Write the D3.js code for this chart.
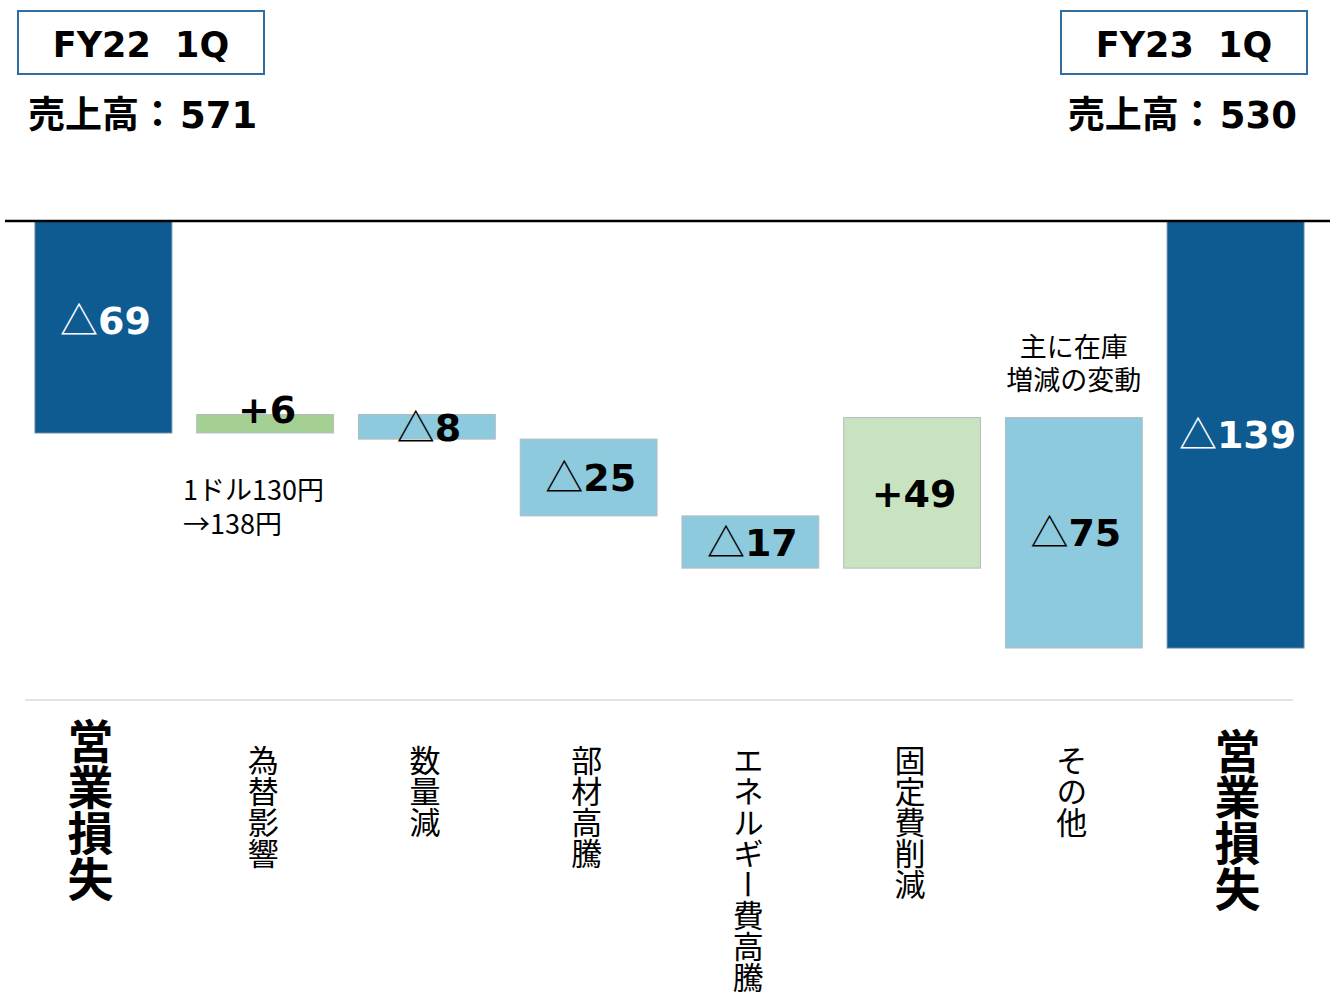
<!DOCTYPE html>
<html>
<head>
<meta charset="utf-8">
<script src="https://cdn.jsdelivr.net/npm/d3@7"></script>
<style>
  body { margin: 0; background: #fff; }
  svg { font-family: "Noto Sans CJK JP", "Noto Sans", sans-serif; }
  .latin { font-family: "DejaVu Sans", "Noto Sans CJK JP", sans-serif; }
</style>
</head>
<body>
<div id="chart"></div>
<script>
// categories (bottom labels) and waterfall steps
var categories = ["営業損失", "為替影響", "数量減", "部材高騰", "エネルギー費高騰", "固定費削減", "その他", "営業損失"];
var deltas = [-69, 6, -8, -25, -17, 49, -75, -139];
var kinds = ["total", "up", "down", "down", "down", "up2", "down", "total"];
var valueLabels = ["△69", "+6", "△8", "△25", "△17", "+49", "△75", "△139"];
var periods = ["FY22\u00a0\u00a01Q", "FY23\u00a0\u00a01Q"];
var salesPrefix = "売上高：";
var sales = ["571", "530"];

var width = 1330, height = 993;
var colors = { total: "#0e5b91", up: "#a4d094", up2: "#c9e3c0", down: "#8dcadd" };

var svg = d3.select("#chart").append("svg")
    .attr("width", width)
    .attr("height", height);

var x = d3.scaleBand()
    .domain(d3.range(categories.length))
    .range([35, 1304])
    .paddingInner(0.154);

var y = d3.scaleLinear()
    .domain([0, -139])
    .range([221, 648]);

// build start/end for each step
var bars = [];
var running = 0;
deltas.forEach(function (d, i) {
    var start, end;
    if (kinds[i] == "total") { start = 0; end = d; running = d; }
    else { start = running; end = running + d; running = end; }
    bars.push({ i: i, start: start, end: end, kind: kinds[i], label: valueLabels[i] });
});

// light baseline above category labels
svg.append("line")
    .attr("x1", 25).attr("x2", 1293)
    .attr("y1", 700).attr("y2", 700)
    .attr("stroke", "#d9d9d9").attr("stroke-width", 1.5);

svg.selectAll("rect.bar").data(bars).enter().append("rect")
    .attr("class", "bar")
    .attr("x", function (d) { return x(d.i); })
    .attr("width", x.bandwidth())
    .attr("y", function (d) { return Math.min(y(d.start), y(d.end)); })
    .attr("height", function (d) { return Math.abs(y(d.start) - y(d.end)); })
    .attr("fill", function (d) { return colors[d.kind]; })
    .attr("stroke", function (d) { return d.kind == "total" ? "#5f84a6" : "#b3bcc0"; })
    .attr("stroke-width", 1);

// zero line
svg.append("line")
    .attr("x1", 5).attr("x2", 1330)
    .attr("y1", y(0)).attr("y2", y(0))
    .attr("stroke", "#000").attr("stroke-width", 2.5);

svg.selectAll("text.val").data(bars).enter().append("text")
    .attr("class", "val latin")
    .attr("x", function (d) { return x(d.i) + x.bandwidth() / 2 + 2; })
    .attr("y", function (d) {
        var mid = (y(d.start) + y(d.end)) / 2;
        var h = Math.abs(y(d.start) - y(d.end));
        if (d.kind == "total" && d.i == 0) mid -= 7;
        if (h < 20) mid -= 14;
        return mid;
    })
    .attr("dy", "0.36em")
    .attr("text-anchor", "middle")
    .attr("font-size", 38)
    .attr("font-weight", "bold")
    .attr("fill", function (d) { return d.kind == "total" ? "#fff" : "#000"; })
    .each(function (d) {
        var t = d3.select(this);
        var c = d.label.charAt(0);
        t.append("tspan")
            .attr("font-weight", c == "△" ? "normal" : "bold")
            .style("font-family", c == "△" ? "'Noto Sans CJK JP'" : null)
            .attr("font-size", c == "△" ? 38 : null)
            .text(c);
        t.append("tspan").text(d.label.slice(1));
    });

// vertical category labels
svg.selectAll("text.cat").data(categories).enter().append("text")
    .attr("class", "cat")
    .attr("x", function (d, i) { return x(i) + x.bandwidth() / 2 + (i == 0 ? -13 : (i == 7 ? 2 : -2)); })
    .attr("y", function (d, i) { return i == 0 ? 718 : (i == 7 ? 728 : 745); })
    .style("writing-mode", "vertical-rl")
    .attr("font-size", function (d, i) { return kinds[i] == "total" ? 46 : 31; })
    .attr("font-weight", function (d, i) { return kinds[i] == "total" ? "bold" : "normal"; })
    .attr("fill", "#000")
    .text(function (d) { return d; });

// header boxes
var boxX = [18, 1061];
periods.forEach(function (p, i) {
    svg.append("rect")
        .attr("x", boxX[i]).attr("y", 11)
        .attr("width", 246).attr("height", 63)
        .attr("fill", "#fff")
        .attr("stroke", "#2f6ea5").attr("stroke-width", 2);
    svg.append("text")
        .attr("class", "latin")
        .attr("x", boxX[i] + 123).attr("y", 44)
        .attr("dy", "0.36em")
        .attr("text-anchor", "middle")
        .attr("font-size", 35).attr("font-weight", "bold")
        .text(p);
});
var s0 = svg.append("text")
    .attr("x", 28).attr("y", 115).attr("dy", "0.36em")
    .attr("font-size", 37).attr("font-weight", "bold");
s0.append("tspan").text(salesPrefix);
s0.append("tspan").attr("class", "latin").attr("dx", 4).text(sales[0]);
var s1 = svg.append("text")
    .attr("x", 1297).attr("y", 115).attr("dy", "0.36em")
    .attr("text-anchor", "end")
    .attr("font-size", 37).attr("font-weight", "bold");
s1.append("tspan").text(salesPrefix);
s1.append("tspan").attr("class", "latin").attr("dx", 4).text(sales[1]);

// annotations
var fx = svg.append("text").attr("font-size", 27).attr("fill", "#000");
fx.append("tspan").attr("x", 183).attr("y", 490).attr("dy", "0.36em").text("1ドル130円");
fx.append("tspan").attr("x", 183).attr("y", 524).attr("dy", "0.36em").text("→138円");

var inv = svg.append("text").attr("font-size", 27).attr("fill", "#000").attr("text-anchor", "middle");
inv.append("tspan").attr("x", x(6) + x.bandwidth() / 2).attr("y", 347).attr("dy", "0.36em").text("主に在庫");
inv.append("tspan").attr("x", x(6) + x.bandwidth() / 2).attr("y", 380).attr("dy", "0.36em").text("増減の変動");
</script>
</body>
</html>
